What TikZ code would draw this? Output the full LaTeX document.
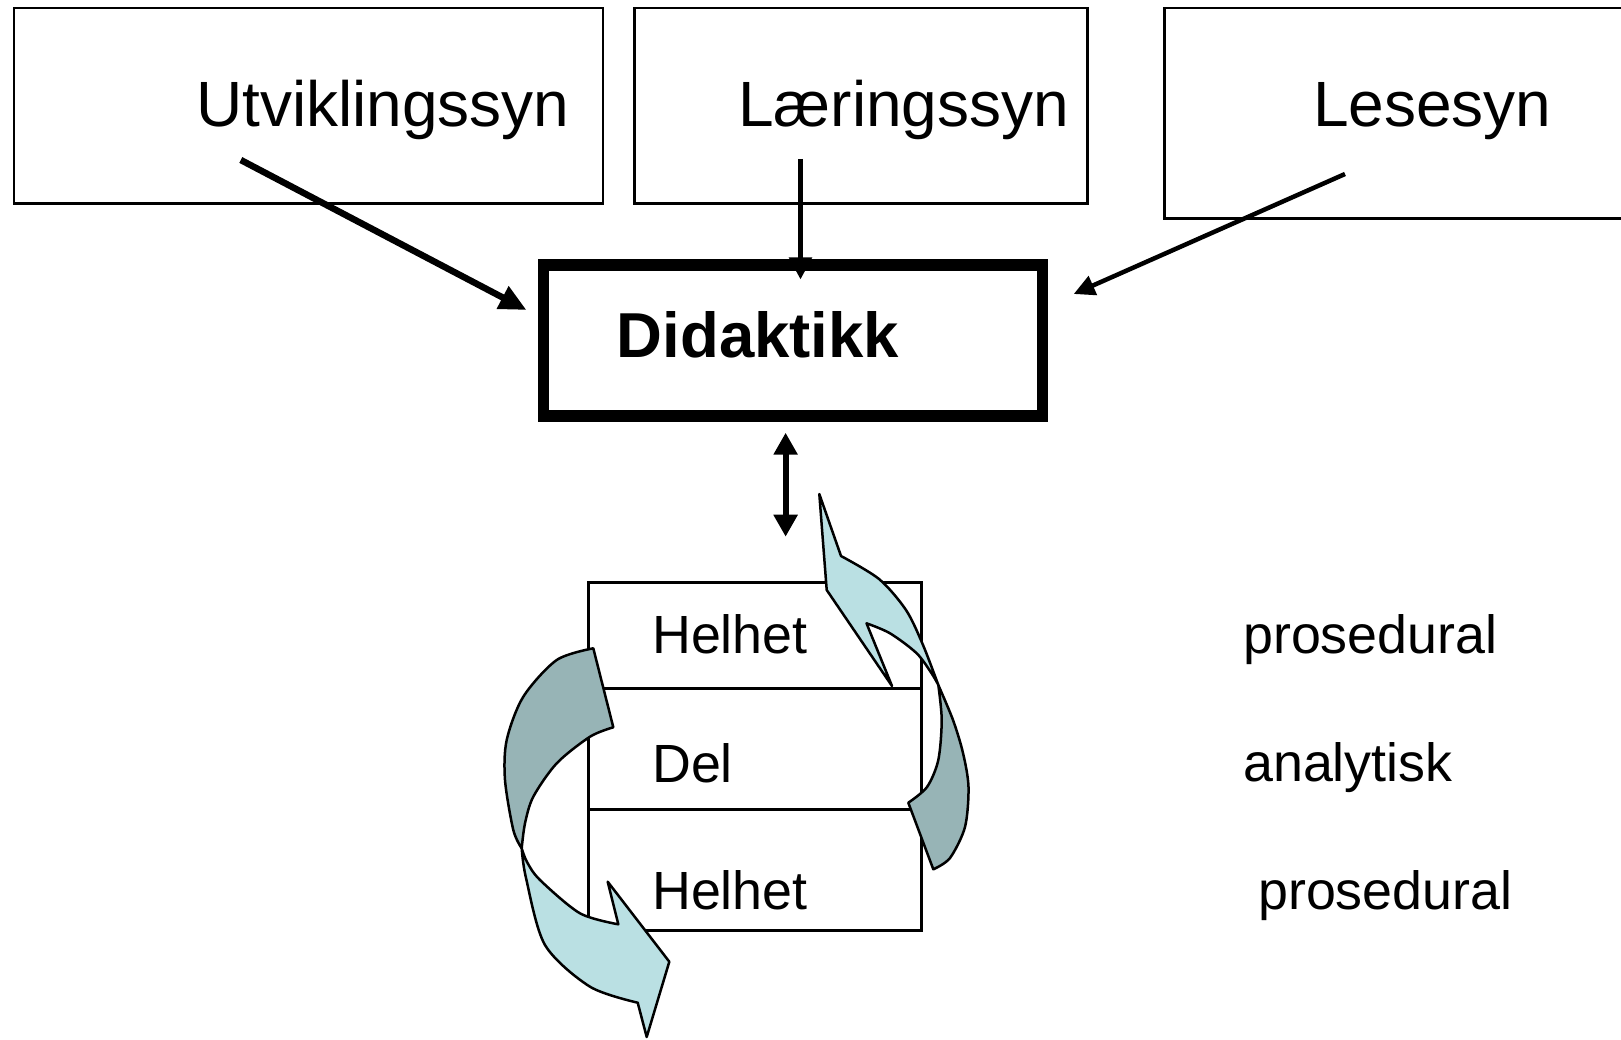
\documentclass[tikz,border=0pt]{standalone}
\usepackage{fontspec}
\setmainfont{Liberation Sans}
\usetikzlibrary{arrows.meta,positioning}
\definecolor{ribbonlight}{HTML}{BAE0E3}
\definecolor{ribbondark}{HTML}{97B4B6}
\begin{document}
\begin{tikzpicture}[x=1pt, y=-1pt, node distance=0pt,
  box/.style = {draw, line width=2.2pt, inner sep=0pt},
  didbox/.style = {draw, line width=11.5pt, inner sep=0pt, minimum width=499pt, minimum height=151pt},
  row/.style = {draw, fill=white, line width=2.5pt, inner sep=0pt, outer sep=0pt, minimum width=333pt},
  big/.style = {inner sep=0pt, anchor=base west, font=\fontsize{64}{70}\selectfont},
  small/.style = {inner sep=0pt, anchor=base west, font=\fontsize{53.8}{60}\selectfont},
  ribbon/.style = {draw=black, line width=2.5pt, line join=round}]
\useasboundingbox (0,0) rectangle (1621,1040);
\node[box, minimum width=589pt, minimum height=195.5pt] (utv) at (308.5,105.75) {};
\node[box, minimum width=453pt, minimum height=195.5pt] (laer) at (861,105.75) {};
\node[box, minimum width=475.5pt, minimum height=210.5pt] (les) at (1402.25,113.25) {};
\node[big] (utvtxt) at (196,126.5) {Utviklingssyn};
\node[big] (laertxt) at (738,126.5) {Læringssyn};
\node[big] (lestxt) at (1313,126.5) {Lesesyn};
\node[didbox] (did) at (793.2,340.6) {};
\node[big, font=\fontsize{63.5}{70}\selectfont\bfseries] (didtxt) at (616.5,357) {Didaktikk};
\coordinate (utvfrom) at (240.8,160);
\coordinate (utvto) at (526.5,310);
\coordinate (laerfrom) at (800.5,159);
\coordinate (laerto) at (800.5,279.5);
\coordinate (lesfrom) at (1345,174);
\coordinate (lesto) at (1073.7,294);
\coordinate (dtop) at (785.6,432.7);
\coordinate (dbot) at (785.6,536.7);
\draw[line width=6.5pt, -{Triangle[length=27pt,width=24pt]}] (utvfrom) -- (utvto);
\draw[line width=5pt, -{Triangle[length=22pt,width=22pt]}] (laerfrom) -- (laerto);
\draw[line width=4.5pt, -{Triangle[length=21pt,width=20pt]}] (lesfrom) -- (lesto);
\draw[line width=6pt, {Triangle[length=22pt,width=23pt]}-{Triangle[length=22pt,width=23pt]}] (dtop) -- (dbot);
\node[row, minimum height=105.8pt] (r1) at (755,635.4) {};
\node[row, minimum height=121.2pt, below=of r1] (r2) {};
\node[row, minimum height=121.2pt, below=of r2] (r3) {};
\node[small] (helhet1) at (652,653.5) {Helhet};
\node[small] (del) at (652,782) {Del};
\node[small] (helhet2) at (652,909) {Helhet};
\node[small] (pros1) at (1243,653.5) {prosedural};
\node[small] (anal) at (1243,781) {analytisk};
\node[small] (pros2) at (1258,909) {prosedural};
\filldraw[ribbon, fill=ribbonlight] (819.3,494) -- (841,556)
  -- plot[smooth] coordinates {(841,556) (879,579) (906,610) (923,645) (938.3,685)}
  -- plot[smooth] coordinates {(938.3,685) (932,674) (916.7,653.3) (890,633.3) (866.5,623.3)}
  -- (892,686) -- (826.7,590) -- cycle;
\filldraw[ribbon, fill=ribbondark] (938.3,685)
  -- plot[smooth] coordinates {(938.3,685) (953,720) (963,753) (968.5,787) (965,827) (950,858) (933.3,869.3)}
  -- (908.3,802.7)
  -- plot[smooth] coordinates {(908.3,802.7) (927,787) (938.3,760) (941.7,720) (938.3,685)}
  -- cycle;
\filldraw[ribbon, fill=ribbondark] (593.3,648.3) -- (613.3,727.3)
  -- plot[smooth] coordinates {(613.3,727.3) (590,736.7) (556.7,763.3) (533.3,796.7) (525,823.3) (521.7,848.3)}
  -- plot[smooth] coordinates {(521.7,848.3) (513.3,830) (505,780) (506.7,740) (523.3,696.7) (556.7,660) (593.3,648.3)}
  -- cycle;
\filldraw[ribbon, fill=ribbonlight] (521.7,848.3)
  -- plot[smooth] coordinates {(521.7,848.3) (526,878) (545,945) (590,986.7) (637.7,1002.7)}
  -- (646.7,1037) -- (669.3,961.7) -- (607.7,881.7) -- (618.3,924.3)
  -- plot[smooth] coordinates {(618.3,924.3) (580,913.3) (540,880) (527,862) (521.7,848.3)}
  -- cycle;
\end{tikzpicture}
\end{document}
